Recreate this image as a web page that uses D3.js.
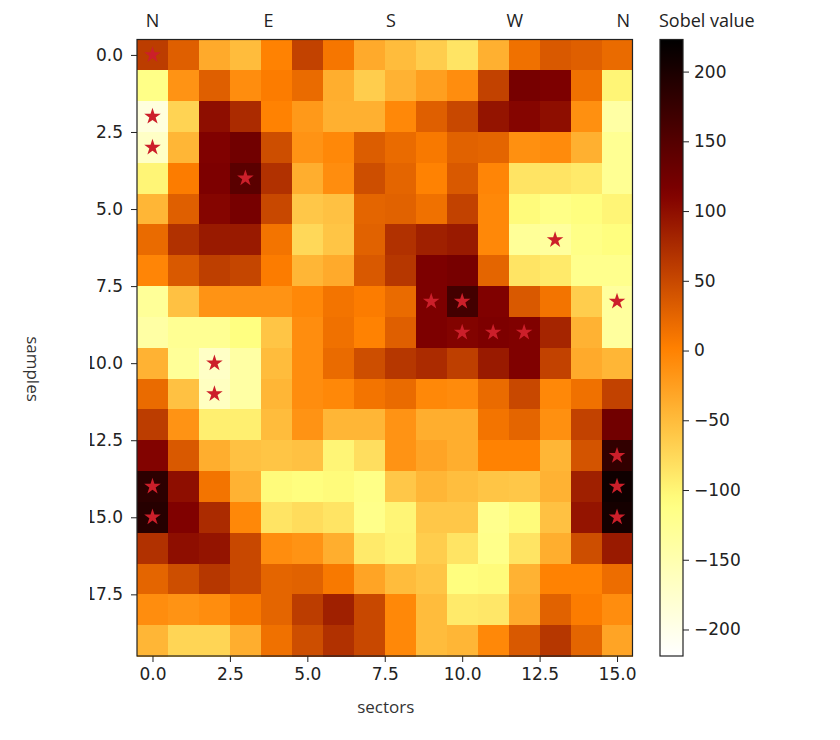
<!DOCTYPE html>
<html><head><meta charset="utf-8">
<script src="https://cdn.jsdelivr.net/npm/d3@7"></script>
<style>body{margin:0;background:#fff}svg{display:block}</style>
</head><body>
<svg id="chart" width="840" height="740"></svg>
<script>
// ---------------- data ----------------
const sectors = d3.range(16);          // columns 0..15
const samples = d3.range(20);          // rows 0..19
const sobel = [
  [ 60, 30,-35,-50,  0, 55, 10,-35,-50,-65,-85,-40, 15, 35, 30, 20],
  [-115,-15, 30,-10,  5, 20,-38,-65,-42,-25,-10, 55,120,115, 15,-100],
  [-190,-70,100, 75,  0,-20,-40,-40, -5, 30, 50, 95,108,100,-12,-140],
  [-170,-45,112,125, 45,-15, -5, 32, 20,  8, 28, 25,-12, -8,-40,-125],
  [-100,  5,115,145, 70,-38,-10, 45, 25,  0, 35, -3,-85,-85,-90,-125],
  [-45, 30,108,120, 50,-60,-55, 25, 28, 15, 55, -5,-105,-115,-108,-100],
  [ 20, 70, 90, 90, 12,-75,-58, 28, 70, 85, 90, -5,-130,-135,-115,-108],
  [ -3, 35, 58, 52,  5,-45,-35, 35, 65,115,120, 25,-85,-90,-120,-120],
  [-130,-55,-15,-15,-15, -5, 12,  5, 20,115,165,112, 35, 12,-65,-135],
  [-140,-125,-125,-110,-58,-10, 15,  0, 30,115,110,115,112, 80,-42,-135],
  [-42,-130,-170,-140,-50,-10, 20, 45, 65, 75, 58, 90,112, 55,-35,-45],
  [ 20,-55,-165,-140,-45,-10, -5, 12, 20, -5, -8, 20, 50, -5, 15, 55],
  [ 60,-15,-95,-95,-50,-15,-45,-45,-15,-38,-38, 12, 25,-12, 55,125],
  [110, 35,-38,-55,-58,-55,-100,-80,-15,-30,-38,  0,  0,-45, 40,180],
  [185,100, 12,-42,-105,-108,-105,-115,-60,-45,-52,-58,-60,-42, 85,210],
  [190,112, 75, -5,-85,-78,-85,-118,-100,-60,-60,-120,-105,-55, 95,205],
  [ 70,100, 95, 50,-10,-15,-38,-90,-98,-65,-85,-118,-85,-38, 45, 90],
  [ 25, 45, 65, 50, 25, 28,  8,-30,-50,-58,-108,-105,-42,  0,  0, 18],
  [-10,-15,-10,  8, 25, 60, 85, 50, -5,-50,-90,-88,-35, 28,  5,-10],
  [-45,-72,-72,-38, 15, 45, 70, 50, -5,-50,-45, -5, 35, 65, 25,-30]
];
// marked cells: [row, column]
const stars = [[0,0],[2,0],[3,0],[4,3],[6,13],[8,9],[8,10],[8,15],[9,10],[9,11],[9,12],
               [10,2],[11,2],[13,15],[14,0],[14,15],[15,0],[15,15]];
const xTicks = [0, 2.5, 5, 7.5, 10, 12.5, 15];
const yTicks = [0, 2.5, 5, 7.5, 10, 12.5, 15, 17.5];
const cbTicks = [-200, -150, -100, -50, 0, 50, 100, 150, 200];
const compassLabels = ["N", "E", "S", "W", "N"];
const compassPos = [0, 3.75, 7.7, 11.7, 15.2];
const vRange = [-219, 223];

// ---------------- layout ----------------
const svg = d3.select("#chart");
const L = 137, R = 632.5, T = 39.5, B = 656;
const x = d3.scaleLinear().domain([-0.5, 15.5]).range([L, R]);
const y = d3.scaleLinear().domain([-0.5, 19.5]).range([T, B]);

// afmhot reversed colormap
function afmhotR(t) {
  const s = 1 - Math.max(0, Math.min(1, t));
  const c = v => Math.round(255 * Math.max(0, Math.min(1, v)));
  return `rgb(${c(2*s)},${c(2*s-0.5)},${c(2*s-1)})`;
}
const color = d3.scaleSequential(afmhotR).domain(vRange);

const cells = [];
samples.forEach(r => sectors.forEach(c => cells.push({r, c, v: sobel[r][c]})));

svg.append("g").selectAll("rect").data(cells).join("rect")
  .attr("x", d => x(d.c - 0.5))
  .attr("y", d => y(d.r - 0.5))
  .attr("width", d => x(d.c + 0.5) - x(d.c - 0.5) + 0.5)
  .attr("height", d => y(d.r + 0.5) - y(d.r - 0.5) + 0.5)
  .attr("fill", d => color(d.v))
  .attr("shape-rendering", "crispEdges");

// stars
svg.append("g").selectAll("path").data(stars).join("path")
  .attr("d", d3.symbol(d3.symbolStar, 85))
  .attr("transform", d => `translate(${x(d[1])},${y(d[0])})`)
  .attr("fill", "#cc1f2a");

// frame
svg.append("rect").attr("x", L).attr("y", T).attr("width", R - L).attr("height", B - T)
  .attr("fill", "none").attr("stroke", "#222").attr("stroke-width", 1.2);

const tickFont = "'DejaVu Sans', sans-serif";
// x axis
const gx = svg.append("g").attr("transform", `translate(0,${B})`)
  .call(d3.axisBottom(x).tickValues(xTicks).tickFormat(d3.format(".1f")).tickSize(6).tickPadding(6));
gx.select(".domain").remove();
gx.selectAll("text").attr("font-family", tickFont).attr("font-size", 17).attr("fill", "#222");
gx.selectAll("line").attr("stroke", "#222");

// y axis (left part of the labels is cut off in the reference)
svg.append("defs").append("clipPath").attr("id", "yclip").append("rect")
  .attr("x", 90).attr("y", 0).attr("width", 60).attr("height", 740);
const gy = svg.append("g").attr("transform", `translate(${L},0)`)
  .call(d3.axisLeft(y).tickValues(yTicks).tickFormat(d3.format(".1f")).tickSize(6).tickPadding(8));
gy.select(".domain").remove();
gy.selectAll("line").attr("stroke", "#222");
const gyLabels = svg.append("g").attr("clip-path", "url(#yclip)");
gy.selectAll(".tick").each(function() {
  const t = d3.select(this);
  const tr = t.attr("transform");
  const txt = t.select("text");
  gyLabels.append("text")
    .attr("transform", `translate(${L},0) ${tr}`)
    .attr("x", txt.attr("x")).attr("dy", txt.attr("dy"))
    .attr("text-anchor", "end")
    .attr("font-family", tickFont).attr("font-size", 17).attr("fill", "#222")
    .text(txt.text());
  txt.remove();
});

// compass labels on top
svg.append("g").selectAll("text").data(compassLabels).join("text")
  .attr("x", (d, i) => x(compassPos[i]))
  .attr("y", 27)
  .attr("text-anchor", "middle")
  .attr("font-family", "'Liberation Sans Narrow', 'Open Sans', sans-serif")
  .attr("font-size", 18).attr("fill", "#222")
  .text(d => d);

// axis titles
svg.append("text").attr("x", (L + R) / 2 + 1).attr("y", 713)
  .attr("text-anchor", "middle").attr("font-family", "'Open Sans', sans-serif")
  .attr("font-size", 17).attr("fill", "#333").text("sectors");
svg.append("text").attr("transform", `translate(27,369) rotate(90)`)
  .attr("text-anchor", "middle").attr("font-family", "'Open Sans', sans-serif")
  .attr("font-size", 17).attr("fill", "#333").text("samples");

// colorbar
const cbL = 660, cbW = 23;
const cy = d3.scaleLinear().domain(vRange).range([B, T]);
const grad = svg.append("defs").append("linearGradient").attr("id", "cbgrad")
  .attr("x1", 0).attr("y1", 1).attr("x2", 0).attr("y2", 0);
d3.range(0, 1.0001, 0.02).forEach(t => {
  grad.append("stop").attr("offset", t).attr("stop-color", afmhotR(t));
});
svg.append("rect").attr("x", cbL).attr("y", T).attr("width", cbW).attr("height", B - T)
  .attr("fill", "url(#cbgrad)").attr("stroke", "#222").attr("stroke-width", 1.2);
const gc = svg.append("g").attr("transform", `translate(${cbL + cbW},0)`)
  .call(d3.axisRight(cy).tickValues(cbTicks).tickFormat(d => d < 0 ? "\u2212" + Math.abs(d) : d).tickSize(6).tickPadding(5));
gc.select(".domain").remove();
gc.selectAll("text").attr("font-family", tickFont).attr("font-size", 17).attr("fill", "#222");
gc.selectAll("line").attr("stroke", "#222");
svg.append("text").attr("x", 659).attr("y", 27)
  .attr("font-family", "'Open Sans', sans-serif").attr("font-size", 18).attr("fill", "#222")
  .text("Sobel value");
</script>
</body></html>
